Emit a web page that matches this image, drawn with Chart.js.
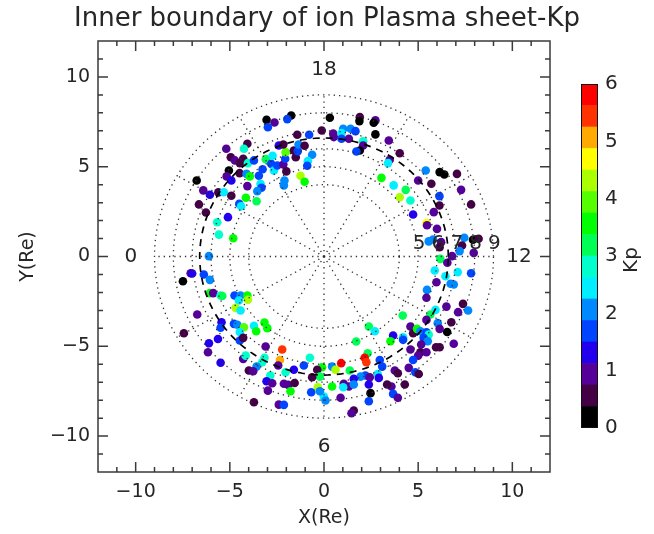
<!DOCTYPE html>
<html>
<head>
<meta charset="utf-8">
<script src="https://cdn.jsdelivr.net/npm/chart.js@4.4.1/dist/chart.umd.min.js"></script>
<style>
html, body { margin: 0; padding: 0; background: #fff; }
#wrap { position: relative; width: 654px; height: 534px; }
#main { position: absolute; left: 0; top: 0; }
#bar { position: absolute; left: 560px; top: 0; }
</style>
</head>
<body>
<div id="wrap">
  <canvas id="main" width="654" height="534"></canvas>
  <canvas id="bar" width="94" height="534"></canvas>
</div>
<script>
// Inner boundary crossings, [X(Re), Y(Re), Kp]
const duskSector = [
    [-6.76, 4.23, 0], [-6.41, 3.68, 1], [-6.06, 3.44, 1.3], [-6.64, 2.90, 0.7], [-6.27, 2.45, 0.7],
    [-5.61, 3.57, 0.7], [-5.32, 3.58, 2.3], [-4.92, 3.38, 0.7], [-5.10, 2.19, 1.3], [-5.67, 1.91, 2.7],
    [-5.58, 1.22, 2.7], [-4.82, 1.02, 3.7], [-6.11, 0.02, 2], [-5.19, 6.00, 1], [-4.07, 6.28, 0.7],
    [-4.25, 6.00, 2.7], [-4.95, 5.53, 0.7], [-4.73, 5.35, 1], [-4.47, 5.20, 0.7], [-4.29, 5.44, 0.7],
    [-4.04, 5.20, 2.7], [-3.72, 5.35, 1.7], [-5.05, 4.79, 0], [-5.17, 4.46, 1], [-4.92, 4.23, 1.3],
    [-4.48, 4.64, 0.7], [-4.11, 4.60, 2], [-3.94, 4.46, 3.7], [-3.46, 4.50, 1.7], [-4.07, 3.92, 1],
    [-3.37, 4.05, 2.3], [-3.32, 3.83, 1.7], [-3.54, 3.64, 2], [-4.15, 3.27, 3.7], [-3.58, 3.08, 3],
    [-4.50, 2.93, 1.7], [-4.40, 2.80, 2.3], [-3.26, 4.86, 1.7], [-3.09, 5.42, 3.3], [-2.80, 5.16, 1.7],
    [-2.73, 5.61, 2.3], [-2.66, 4.79, 2.3], [-2.48, 5.07, 1.7], [-2.16, 5.12, 1], [-2.06, 5.44, 1.7],
    [-2.04, 5.81, 4], [-2.00, 4.74, 0.7], [-2.10, 4.23, 2], [-2.13, 3.96, 2], [-2.40, 6.18, 1.3],
    [-2.16, 6.24, 0.7], [-1.60, 5.90, 0.7], [-1.50, 5.53, 0.7], [-1.39, 5.87, 1.7], [-1.35, 6.24, 2],
    [-1.03, 6.17, 0.7], [-0.63, 5.67, 2], [-0.86, 5.31, 2.3], [-0.89, 5.05, 1.7], [-1.25, 4.50, 4.3],
    [-1.03, 4.16, 3.7], [-1.42, 6.78, 0.7], [-0.79, 6.78, 1.7], [-0.12, 7.02, 0.7], [-3.05, 7.61, 0],
    [-2.63, 7.46, 1], [-2.98, 7.20, 1.7], [-1.74, 7.85, 0], [-1.95, 7.65, 1.7], [0.31, 7.73, 0]
];

const noonDuskSector = [
    [1.90, 7.76, 0.7], [1.88, 7.54, 0], [2.73, 7.58, 1], [2.64, 7.45, 0], [0.49, 6.84, 1],
    [0.52, 6.65, 1], [1.02, 7.11, 2], [1.41, 7.11, 2], [1.67, 6.98, 1.7], [0.93, 6.87, 2.3],
    [0.93, 6.56, 1.7], [1.32, 6.56, 1], [2.08, 6.42, 2.7], [2.08, 6.18, 1], [1.90, 5.90, 0],
    [1.72, 5.85, 1.7], [2.73, 6.80, 0], [3.44, 6.46, 1], [4.02, 5.75, 0.7], [3.49, 5.39, 1],
    [3.40, 5.20, 2.3], [3.05, 4.38, 3.7], [3.70, 3.96, 2.3], [4.34, 3.71, 3], [4.02, 3.30, 4.3],
    [4.59, 3.12, 2.7], [4.73, 2.34, 1.3], [5.40, 4.79, 2], [5.00, 4.23, 1], [5.70, 4.05, 0.7],
    [6.14, 4.70, 0], [6.39, 4.57, 0], [7.06, 4.60, 0.7], [7.28, 3.71, 1], [7.81, 2.90, 0.7],
    [6.13, 3.36, 1.7], [6.13, 2.84, 0.7], [5.83, 2.47, 1], [5.44, 1.86, 4.7], [5.47, 1.74, 1],
    [6.00, 1.54, 1], [5.56, 0.84, 2], [5.79, 0.95, 2], [6.22, 0.80, 1], [6.14, 0.52, 0.7],
    [7.45, 1.04, 2], [7.91, 0.93, 0], [8.21, 0.99, 0.7], [7.33, 0.61, 0.7], [7.20, 0.30, 2],
    [7.95, 0.20, 1], [6.80, 0.02, 1]
];

const dawnSector = [
    [6.18, -0.13, 3.3], [6.55, -0.35, 1], [5.88, -0.78, 2.3], [6.45, -1.10, 2.3], [7.10, -0.87, 2.3],
    [7.81, -0.93, 1.7], [5.97, -1.43, 1], [6.89, -1.56, 2], [6.72, -1.52, 2], [5.47, -1.86, 2],
    [5.44, -2.30, 1], [6.50, -2.79, 1], [7.38, -2.64, 0.7], [7.12, -3.10, 1], [7.65, -3.01, 2],
    [5.92, -2.97, 2.3], [5.65, -3.23, 3], [5.44, -3.53, 1], [6.04, -3.71, 2], [6.14, -4.03, 1],
    [6.76, -3.66, 0.7], [6.54, -4.20, 0], [6.89, -4.86, 1], [5.95, -5.05, 0.7], [6.14, -5.05, 0.7],
    [4.59, -3.90, 1], [4.73, -4.27, 0.7], [4.94, -4.03, 3.7], [5.12, -4.16, 2], [5.44, -4.22, 1.7],
    [5.56, -4.35, 2.7], [5.29, -4.53, 1.7], [5.51, -4.72, 2], [5.16, -4.90, 1], [4.59, -5.18, 1],
    [5.12, -5.33, 0.7], [5.44, -5.33, 1], [5.00, -5.52, 1], [4.73, -5.76, 1.7], [4.50, -6.20, 1],
    [4.85, -6.45, 1.7], [5.03, -6.54, 0.7], [4.20, -4.50, 2.3], [3.67, -4.40, 1.3], [3.53, -4.72, 3.7],
    [4.20, -4.64, 1.7], [4.18, -3.29, 3.3], [2.38, -3.90, 3.3], [2.70, -4.16, 2.3], [1.71, -4.73, 3],
    [3.76, -6.35, 1], [3.92, -6.50, 0.7], [4.29, -7.13, 0.7], [3.58, -7.24, 1], [3.67, -7.65, 1.7],
    [3.92, -7.87, 1], [3.35, -7.13, 0.7], [2.96, -5.76, 1.7], [3.09, -6.13, 1.7], [2.85, -6.54, 2.3],
    [2.91, -6.76, 1.3], [2.32, -5.39, 3], [2.16, -5.64, 5.7], [2.25, -5.89, 5.3], [2.20, -6.63, 1.7],
    [2.43, -6.72, 1], [1.94, -6.69, 2], [1.58, -6.81, 1.3], [2.38, -7.13, 1.3], [2.47, -7.61, 0],
    [2.38, -8.06, 1.7], [0.91, -5.94, 5.7], [0.43, -6.13, 2], [0.61, -6.31, 4.3], [1.37, -6.35, 3],
    [-0.10, -6.17, 3.7], [0.43, -7.24, 3.7], [1.05, -7.09, 1], [1.32, -7.24, 1], [1.02, -7.28, 2.3],
    [1.58, -7.13, 2], [-0.01, -7.80, 2.3], [0.08, -8.02, 2], [0.88, -7.87, 1], [1.58, -8.58, 0.7],
    [1.46, -8.73, 1]
];

const midnightDawnSector = [
    [-7.08, -0.93, 1], [-7.00, -0.95, 1.3], [-7.49, -1.38, 0], [-6.38, -1.00, 1.7], [-6.06, -1.30, 2],
    [-6.06, -2.04, 3.7], [-5.88, -2.04, 1], [-5.49, -2.17, 2.7], [-5.40, -2.20, 3], [-4.75, -2.17, 1.7],
    [-4.43, -2.17, 2], [-4.07, -2.17, 3.7], [-4.04, -2.41, 4.3], [-4.52, -2.45, 2.3], [-4.69, -2.86, 4.3],
    [-4.43, -3.01, 2.3], [-6.73, -3.23, 1], [-7.44, -4.27, 0.7], [-5.44, -3.66, 1.3], [-5.49, -3.97, 1.7],
    [-4.78, -3.75, 1.7], [-4.60, -3.80, 2], [-4.25, -3.94, 4], [-4.47, -4.20, 2.3], [-3.72, -3.86, 2.3],
    [-3.60, -4.16, 3.7], [-3.16, -3.68, 3.7], [-3.01, -3.99, 3.7], [-5.63, -4.59, 1.3], [-6.11, -4.83, 1.3],
    [-6.16, -5.33, 1], [-5.49, -5.92, 1.3], [-4.47, -4.68, 1.7], [-4.29, -4.53, 0.7], [-4.29, -5.70, 1],
    [-4.16, -5.52, 2.7], [-3.10, -5.01, 1], [-2.22, -5.18, 5.3], [-2.34, -5.76, 5], [-2.43, -6.07, 1],
    [-3.16, -5.64, 2.7], [-3.28, -5.89, 2.7], [-3.58, -6.13, 2], [-3.99, -6.35, 0.7], [-3.76, -6.39, 1],
    [-2.85, -6.63, 2.7], [-3.05, -6.95, 1.3], [-2.75, -7.06, 1], [-2.98, -7.47, 1], [-2.13, -7.09, 1],
    [-1.90, -7.15, 1], [-1.56, -7.04, 0.7], [-1.78, -7.50, 3.7], [-2.04, -6.45, 2.7], [-1.60, -6.31, 1.3],
    [-1.07, -6.07, 1.7], [-0.75, -5.64, 2.7], [-0.36, -6.31, 0.7], [-0.22, -6.69, 3], [-0.63, -6.72, 0.7],
    [-0.33, -7.28, 4.3], [-0.68, -7.56, 1.7], [-0.22, -7.50, 2], [-3.72, -8.12, 0.7], [-2.40, -8.25, 1],
    [-2.13, -8.26, 1.7]
];

// Kp colour table (16 levels, 0 to 6)
const kpEdges = [0, 0.375, 0.75, 1.125, 1.5, 1.875, 2.25, 2.625, 3, 3.375, 3.75, 4.125, 4.5, 4.875, 5.25, 5.625, 6];
const kpColors = ['#000000', '#440044', '#550099', '#2200ee', '#0044ff', '#0088ff', '#00eeff', '#00ffcc',
                  '#00ff55', '#00ff00', '#55ff00', '#aaff00', '#ffff00', '#ffaa00', '#ff3300', '#ff0000'];

// polar grid
const ringRadii = [4, 5, 6, 7, 8, 9];
const ringLabels = ['5', '6', '7', '8', '9'];
const boundaryRadius = 6.6;
const spokeAngles = [0, 30, 60, 90, 120, 150, 180, 210, 240, 270, 300, 330];
const mltLabels = ['18', '12', '6', '0'];

const TITLE = 'Inner boundary of ion Plasma sheet-Kp';
const FONT = "'DejaVu Sans', sans-serif";
const INK = '#262626';

function kpColor(k) {
    for (let i = 0; i < kpColors.length; i++) {
        if (k < kpEdges[i + 1]) return kpColors[i];
    }
    return kpColors[kpColors.length - 1];
}

function minusFmt(v) {
    return v < 0 ? '\u2212' + Math.abs(v) : String(v);
}

const allPoints = [...duskSector, ...noonDuskSector, ...dawnSector, ...midnightDawnSector];

// dotted rings, spokes, dashed boundary and MLT labels
const polarGrid = {
    id: 'polarGrid',
    afterDatasetsDraw(chart) {
        const { ctx, scales: { x, y } } = chart;
        const trace = (r) => {
            ctx.beginPath();
            for (let d = 0; d <= 360; d += 2) {
                const t = d * Math.PI / 180;
                const px = x.getPixelForValue(r * Math.cos(t));
                const py = y.getPixelForValue(r * Math.sin(t));
                if (d === 0) ctx.moveTo(px, py); else ctx.lineTo(px, py);
            }
            ctx.stroke();
        };
        const outer = ringRadii[ringRadii.length - 1];
        ctx.save();
        ctx.strokeStyle = '#303030';
        ctx.lineWidth = 1.3;
        ctx.setLineDash([1.3, 4]);
        ringRadii.forEach(trace);
        ctx.beginPath();
        spokeAngles.forEach(a => {
            const t = a * Math.PI / 180;
            ctx.moveTo(x.getPixelForValue(0), y.getPixelForValue(0));
            ctx.lineTo(x.getPixelForValue(outer * Math.cos(t)), y.getPixelForValue(outer * Math.sin(t)));
        });
        ctx.stroke();

        ctx.strokeStyle = '#000';
        ctx.lineWidth = 1.7;
        ctx.setLineDash([7, 6]);
        trace(boundaryRadius);
        ctx.restore();

        ctx.save();
        ctx.fillStyle = INK;
        ctx.font = '20px ' + FONT;
        ctx.textAlign = 'center';
        ctx.textBaseline = 'middle';
        ringLabels.forEach(l => {
            ctx.fillText(l, x.getPixelForValue(Number(l) + 0.05), y.getPixelForValue(0.68));
        });
        const spots = { '18': [0, 10.38], '12': [10.35, 0], '6': [0, -10.62], '0': [-10.25, 0] };
        mltLabels.forEach(l => {
            ctx.fillText(l, x.getPixelForValue(spots[l][0]), y.getPixelForValue(spots[l][1]));
        });
        ctx.restore();
    }
};

// IDL-style box with inward ticks on all four sides
const frameTicks = {
    id: 'frameTicks',
    afterDraw(chart) {
        const { ctx, chartArea: a, scales: { x, y } } = chart;
        ctx.save();
        ctx.strokeStyle = '#3a3a3a';
        ctx.lineWidth = 1.5;
        ctx.strokeRect(a.left, a.top, a.right - a.left, a.bottom - a.top);
        ctx.beginPath();
        for (let v = -11; v <= 11; v++) {
            const len = v % 5 === 0 ? 10 : 5;
            const px = x.getPixelForValue(v);
            const py = y.getPixelForValue(v);
            ctx.moveTo(px, a.bottom); ctx.lineTo(px, a.bottom - len);
            ctx.moveTo(px, a.top); ctx.lineTo(px, a.top + len);
            ctx.moveTo(a.left, py); ctx.lineTo(a.left + len, py);
            ctx.moveTo(a.right, py); ctx.lineTo(a.right - len, py);
        }
        ctx.stroke();
        ctx.restore();
    }
};

new Chart(document.getElementById('main'), {
    type: 'scatter',
    data: {
        datasets: [{
            data: allPoints.map(p => ({ x: p[0], y: p[1] })),
            pointBackgroundColor: allPoints.map(p => kpColor(p[2])),
            pointBorderWidth: 0,
            pointRadius: 4.3,
            pointHoverRadius: 4.3
        }]
    },
    options: {
        responsive: false,
        animation: false,
        layout: { padding: 0 },
        plugins: {
            legend: { display: false },
            tooltip: { enabled: false },
            title: {
                display: true,
                text: TITLE,
                color: INK,
                font: { family: FONT, size: 26, weight: 'normal' },
                padding: { top: 4, bottom: 5.8 }
            }
        },
        scales: {
            x: {
                type: 'linear', min: -12, max: 12,
                grid: { display: false, drawTicks: false },
                border: { display: false },
                ticks: { stepSize: 5, includeBounds: false, padding: 9, maxRotation: 0,
                         color: INK, font: { family: FONT, size: 19 }, callback: minusFmt },
                title: { display: true, text: 'X(Re)', color: INK,
                         font: { family: FONT, size: 19 }, padding: { top: 0, bottom: 5 } },
                afterFit: s => { s.height = 62; }
            },
            y: {
                type: 'linear', min: -12, max: 12,
                grid: { display: false, drawTicks: false },
                border: { display: false },
                ticks: { stepSize: 5, includeBounds: false, padding: 8,
                         color: INK, font: { family: FONT, size: 19 }, callback: minusFmt },
                title: { display: true, text: 'Y(Re)', color: INK,
                         font: { family: FONT, size: 19 }, padding: { top: 17, bottom: 0 } },
                afterFit: s => { s.width = 98; }
            },
            // empty strip that leaves room for the colour bar
            yBar: {
                type: 'linear', position: 'right',
                grid: { display: false, drawTicks: false },
                border: { display: false },
                ticks: { display: false },
                afterFit: s => { s.width = 104; }
            }
        }
    },
    plugins: [polarGrid, frameTicks]
});

// colour bar
const barFrame = {
    id: 'barFrame',
    afterDraw(chart) {
        const { ctx, chartArea: a } = chart;
        ctx.save();
        ctx.strokeStyle = '#111';
        ctx.lineWidth = 1;
        ctx.strokeRect(a.left + 0.5, a.top + 0.5, a.right - a.left - 1, a.bottom - a.top - 1);
        ctx.translate(a.right + 34, (a.top + a.bottom) / 2 + 4);
        ctx.rotate(-Math.PI / 2);
        ctx.fillStyle = INK;
        ctx.font = '20px ' + FONT;
        ctx.textAlign = 'center';
        ctx.textBaseline = 'middle';
        ctx.fillText('Kp', 0, 0);
        ctx.restore();
    }
};

new Chart(document.getElementById('bar'), {
    type: 'bar',
    data: {
        labels: ['Kp'],
        datasets: kpColors.map((c, i) => ({
            data: [[kpEdges[i], kpEdges[i + 1]]],
            backgroundColor: c,
            borderWidth: 0,
            barPercentage: 1,
            categoryPercentage: 1
        }))
    },
    options: {
        responsive: false,
        animation: false,
        layout: { padding: { left: 21, top: 84, bottom: 106, right: 0 } },
        plugins: { legend: { display: false }, tooltip: { enabled: false } },
        scales: {
            x: { display: false, stacked: true },
            y: {
                position: 'right', min: 0, max: 6, stacked: false,
                grid: { display: false, drawTicks: false },
                border: { display: false },
                ticks: { stepSize: 1, padding: 7, color: INK, font: { family: FONT, size: 20 } },
                afterFit: s => { s.width = 56; }
            }
        }
    },
    plugins: [barFrame]
});
</script>
</body>
</html>
